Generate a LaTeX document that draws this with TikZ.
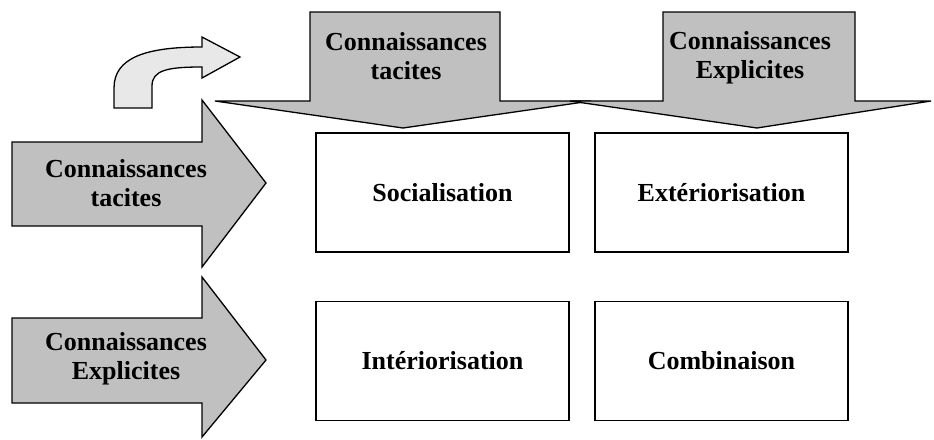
\documentclass[tikz,border=0pt]{standalone}
\usepackage{fontspec}
\setmainfont{Liberation Serif}
\definecolor{flechegris}{HTML}{C0C0C0}
\definecolor{courbegris}{HTML}{E8E8E8}
\begin{document}
\begin{tikzpicture}[x=1pt,y=-1pt,
    fleche/.style={fill=flechegris, draw=black, line width=1.3pt, line join=miter},
    titre/.style={align=center, font=\fontsize{26}{29}\selectfont\bfseries},
    etape/.style={draw=black, line width=1.8pt, minimum width=253pt, minimum height=119pt, inner sep=0pt, font=\fontsize{26}{28}\selectfont\bfseries}]
      \useasboundingbox (0,0) rectangle (934,439);

      % Bent arrow, top left
      \draw[fill=courbegris, line width=1.3pt, line join=miter]
        (114,108) -- (114,88) .. controls (114,58) and (145,47) .. (202,47)
        -- (202,37) -- (240,57) -- (202,78) -- (202,67)
        .. controls (168,67) and (152,70) .. (152,86) -- (152,108) -- cycle;

      % Down arrow: tacit knowledge
      \draw[fleche] (310,12) -- (500,12) -- (500,101) -- (591,101) -- (403,128)
        -- (215,101) -- (310,101) -- cycle;
      \node[titre] (hautTacite) at (406,56) {Connaissances\\tacites};

      % Down arrow: explicit knowledge
      \draw[fleche] (663,12) -- (855,12) -- (855,101) -- (931,101) -- (757,128)
        -- (570,101) -- (663,101) -- cycle;
      \node[titre] (hautExplicite) at (750,58) {Connaissances\\Explicites};

      % Right arrow: tacit knowledge
      \draw[fleche] (12,142) -- (202,142) -- (202,100) -- (266,183) -- (202,267)
        -- (202,226) -- (12,226) -- cycle;
      \node[titre] (gaucheTacite) at (126,183) {Connaissances\\tacites};

      % Right arrow: explicit knowledge
      \draw[fleche] (12,318) -- (202,318) -- (202,277) -- (266,360) -- (202,437)
        -- (202,403) -- (12,403) -- cycle;
      \node[titre] (gaucheExplicite) at (126,359) {Connaissances\\Explicites};

      % The four conversion modes
      \node[etape] (socialisation) at (442.5,192.5) {Socialisation};
      \node[etape] (exteriorisation) at (721.5,192.5) {Extériorisation};
      \node[etape] (interiorisation) at (442.5,361) {Intériorisation};
      \node[etape] (combinaison) at (721.5,361) {Combinaison};
\end{tikzpicture}
\end{document}
